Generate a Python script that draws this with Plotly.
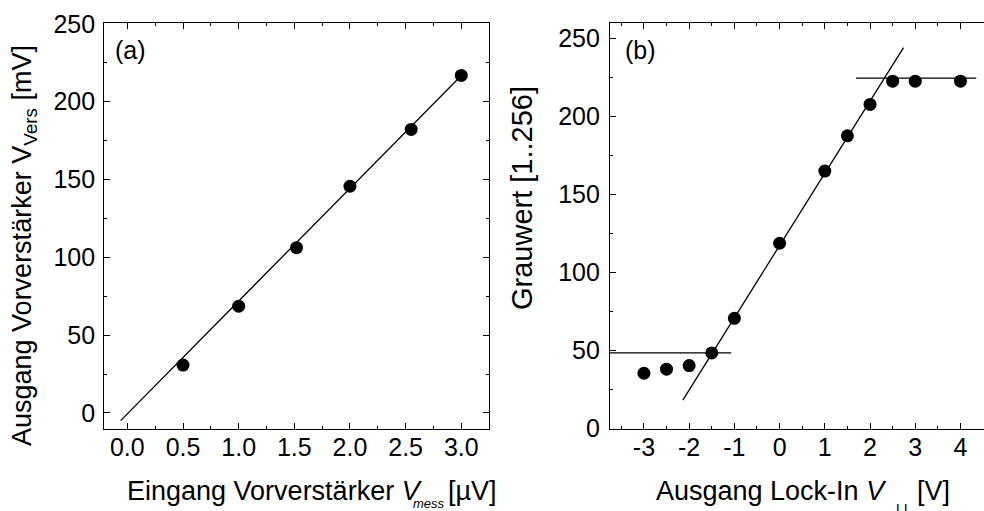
import plotly.graph_objects as go

W, H = 984, 511
FONT = "Arial, Liberation Sans, sans-serif"
FS = 25

# Panel (a): preamplifier calibration
x_a = [0.5, 1.0, 1.52, 2.0, 2.55, 3.0]
y_a = [30.8, 68.6, 106.2, 145.7, 182.2, 216.9]
fit_a_x = [-0.06, 2.99]
fit_a_y = [-4.9, 216.1]

# Panel (b): grey value vs lock-in output
x_b = [-3, -2.5, -2, -1.5, -1, 0, 1, 1.5, 2, 2.5, 3, 4]
y_b = [35.3, 37.9, 40.2, 48.3, 70.5, 118.6, 164.9, 187.5, 207.6, 222.5, 222.5, 222.5]
low_x = [-3.75, -1.07]
low_y = [48.3, 48.3]
high_x = [1.69, 4.35]
high_y = [224.4, 224.4]
slope_x = [-2.14, 2.74]
slope_y = [18.1, 244.0]

ticks_a_x = [0.0, 0.5, 1.0, 1.5, 2.0, 2.5, 3.0]
ticks_a_x_text = ["0.0", "0.5", "1.0", "1.5", "2.0", "2.5", "3.0"]
ticks_a_y = [0, 50, 100, 150, 200, 250]
ticks_b_x = [-3, -2, -1, 0, 1, 2, 3, 4]
ticks_b_x_text = ["-3", "-2", "-1", "0", "1", "2", "3", "4"]
ticks_b_y = [0, 50, 100, 150, 200, 250]


def px(x):
    return x / W


def py(y):
    return 1 - y / H


fig = go.Figure()

line_style = dict(color="black", width=1.3)
marker_style = dict(color="black", size=13)

fig.add_trace(go.Scatter(x=fit_a_x, y=fit_a_y, mode="lines", line=line_style,
                         xaxis="x", yaxis="y", showlegend=False))
fig.add_trace(go.Scatter(x=x_a, y=y_a, mode="markers", marker=marker_style,
                         xaxis="x", yaxis="y", showlegend=False))

for lx, ly in [(low_x, low_y), (high_x, high_y), (slope_x, slope_y)]:
    fig.add_trace(go.Scatter(x=lx, y=ly, mode="lines", line=line_style,
                             xaxis="x2", yaxis="y2", showlegend=False))
fig.add_trace(go.Scatter(x=x_b, y=y_b, mode="markers", marker=marker_style,
                         xaxis="x2", yaxis="y2", showlegend=False,
                         cliponaxis=False))

ydom = [py(429), py(23.3)]

axis_common = dict(
    showgrid=False, zeroline=False, showline=True, linecolor="black",
    linewidth=1.3, ticks="inside", ticklen=6, tickwidth=1.1, tickcolor="black",
    tickfont=dict(family=FONT, size=FS, color="black"),
)

fig.update_layout(
    width=W, height=H,
    margin=dict(l=0, r=0, t=0, b=0, autoexpand=False),
    paper_bgcolor="white", plot_bgcolor="white",
    xaxis=dict(axis_common, domain=[px(104.3), px(489)], range=[-0.207, 3.249],
               tickvals=ticks_a_x, ticktext=ticks_a_x_text, mirror="allticks",
               anchor="y", ticklabelstandoff=-4,
               minor=dict(ticks="inside", ticklen=3, tickwidth=1.1,
                          tickcolor="black", dtick=0.25, tick0=0)),
    yaxis=dict(axis_common, domain=ydom, range=[-10.3, 250.4],
               tickvals=ticks_a_y, mirror="allticks", anchor="x",
               ticklabelstandoff=3,
               minor=dict(ticks="inside", ticklen=3, tickwidth=1.1,
                          tickcolor="black", dtick=25, tick0=0)),
    xaxis2=dict(axis_common, domain=[px(610), 1.0], range=[-3.75, 4.52],
                tickvals=ticks_b_x, ticktext=ticks_b_x_text,
                mirror="allticks", anchor="y2", ticklabelstandoff=-4,
                minor=dict(ticks="inside", ticklen=3, tickwidth=1.1,
                           tickcolor="black", dtick=0.5, tick0=0)),
    yaxis2=dict(axis_common, domain=ydom, range=[-0.45, 259.6],
                tickvals=ticks_b_y, mirror=False, anchor="x2",
                ticklabelstandoff=4,
                minor=dict(ticks="inside", ticklen=3, tickwidth=1.1,
                           tickcolor="black", dtick=25, tick0=0)),
)


def note(text, x, y, xanchor="left", yanchor="middle", size=FS, angle=0):
    fig.add_annotation(text=text, x=px(x), y=py(y), xref="paper", yref="paper",
                       xanchor=xanchor, yanchor=yanchor, showarrow=False,
                       textangle=angle,
                       font=dict(family=FONT, size=size, color="black"))


# panel labels
note("(a)", 113, 50)
note("(b)", 623, 50)

# axis titles, panel (a)
note("Ausgang Vorverstärker V<sub>Vers</sub> [mV]", 24, 246, xanchor="center",
     size=27, angle=-90)
note("Eingang Vorverstärker <i>V</i>", 125, 491, size=27)
note("<i>mess</i>", 411, 503, size=13)
note("[µV]", 446, 491, size=27)

# axis titles, panel (b)
note("Grauwert [1..256]", 522, 198, xanchor="center", size=29, angle=-90)
note("Ausgang Lock-In <i>V</i>", 654, 491, size=27)
note("LI", 894, 509, size=14)
note("[V]", 915, 491, size=27)

fig.write_html("out.html")
